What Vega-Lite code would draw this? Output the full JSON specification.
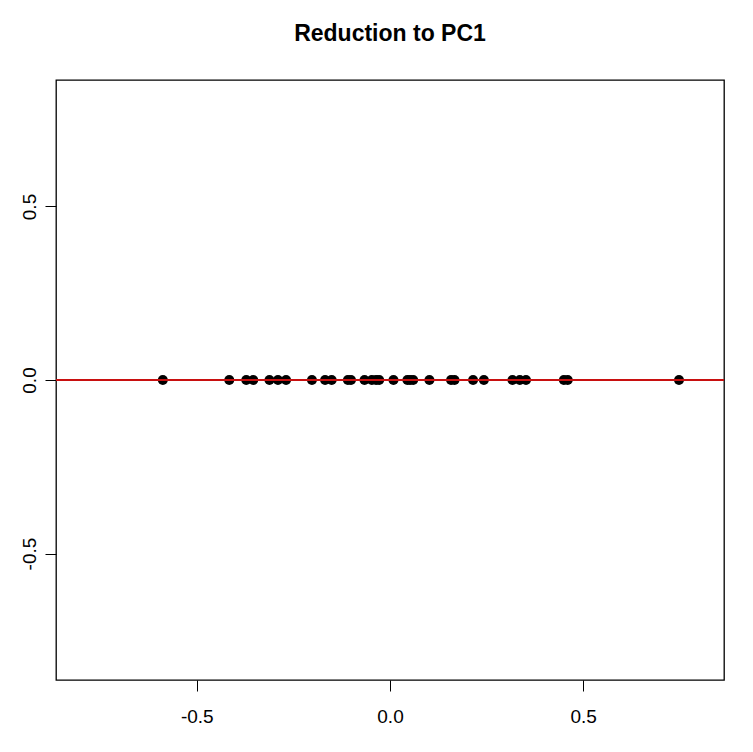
{
  "$schema": "https://vega.github.io/schema/vega-lite/v6.json",
  "autosize": {"type": "none"},
  "width": 668,
  "height": 600,
  "padding": {"left": 56, "top": 80, "right": 29, "bottom": 72},
  "background": "white",
  "title": {
    "text": "Reduction to PC1",
    "font": "Liberation Sans",
    "fontSize": 23,
    "fontWeight": "bold",
    "color": "black",
    "anchor": "middle",
    "frame": "group",
    "baseline": "alphabetic",
    "offset": 16
  },
  "data": {
    "values": [
      {"pc1": -0.588, "y": 0},
      {"pc1": -0.416, "y": 0},
      {"pc1": -0.372, "y": 0},
      {"pc1": -0.354, "y": 0},
      {"pc1": -0.312, "y": 0},
      {"pc1": -0.290, "y": 0},
      {"pc1": -0.269, "y": 0},
      {"pc1": -0.202, "y": 0},
      {"pc1": -0.168, "y": 0},
      {"pc1": -0.151, "y": 0},
      {"pc1": -0.109, "y": 0},
      {"pc1": -0.101, "y": 0},
      {"pc1": -0.066, "y": 0},
      {"pc1": -0.047, "y": 0},
      {"pc1": -0.036, "y": 0},
      {"pc1": -0.028, "y": 0},
      {"pc1": 0.009, "y": 0},
      {"pc1": 0.045, "y": 0},
      {"pc1": 0.052, "y": 0},
      {"pc1": 0.060, "y": 0},
      {"pc1": 0.102, "y": 0},
      {"pc1": 0.158, "y": 0},
      {"pc1": 0.167, "y": 0},
      {"pc1": 0.215, "y": 0},
      {"pc1": 0.243, "y": 0},
      {"pc1": 0.317, "y": 0},
      {"pc1": 0.336, "y": 0},
      {"pc1": 0.352, "y": 0},
      {"pc1": 0.450, "y": 0},
      {"pc1": 0.460, "y": 0},
      {"pc1": 0.748, "y": 0}
    ]
  },
  "layer": [
    {
      "mark": {"type": "point", "filled": true, "shape": "circle", "color": "black", "opacity": 1, "size": 100},
      "encoding": {
        "x": {
          "field": "pc1",
          "type": "quantitative",
          "scale": {"domain": [-0.8645, 0.8645], "nice": false, "zero": false},
          "axis": {
            "title": null,
            "values": [-0.5, 0, 0.5],
            "format": ".1f",
            "labelExpr": "replace(datum.label, '\u2212', '-')",
            "grid": false,
            "domain": false,
            "tickSize": 11,
            "tickColor": "black",
            "tickWidth": 1,
            "labelFont": "Liberation Sans",
            "labelFontSize": 19,
            "labelColor": "black",
            "labelPadding": 16,
            "labelBaseline": "top",
            "labelFlush": false
          }
        },
        "y": {
          "field": "y",
          "type": "quantitative",
          "scale": {"domain": [-0.8645, 0.8645], "nice": false, "zero": false},
          "axis": {
            "title": null,
            "values": [-0.5, 0, 0.5],
            "format": ".1f",
            "labelExpr": "replace(datum.label, '\u2212', '-')",
            "grid": false,
            "domain": false,
            "tickSize": 11,
            "tickColor": "black",
            "tickWidth": 1,
            "labelFont": "Liberation Sans",
            "labelFontSize": 19,
            "labelColor": "black",
            "labelAngle": -90,
            "labelAlign": "center",
            "labelBaseline": "bottom",
            "labelPadding": 6,
            "labelFlush": false
          }
        }
      }
    },
    {
      "mark": {"type": "rule", "color": "#c81010", "strokeWidth": 1},
      "encoding": {"y": {"datum": 0}}
    }
  ],
  "config": {
    "view": {"stroke": "black", "strokeWidth": 1.3, "fill": "white"}
  }
}
